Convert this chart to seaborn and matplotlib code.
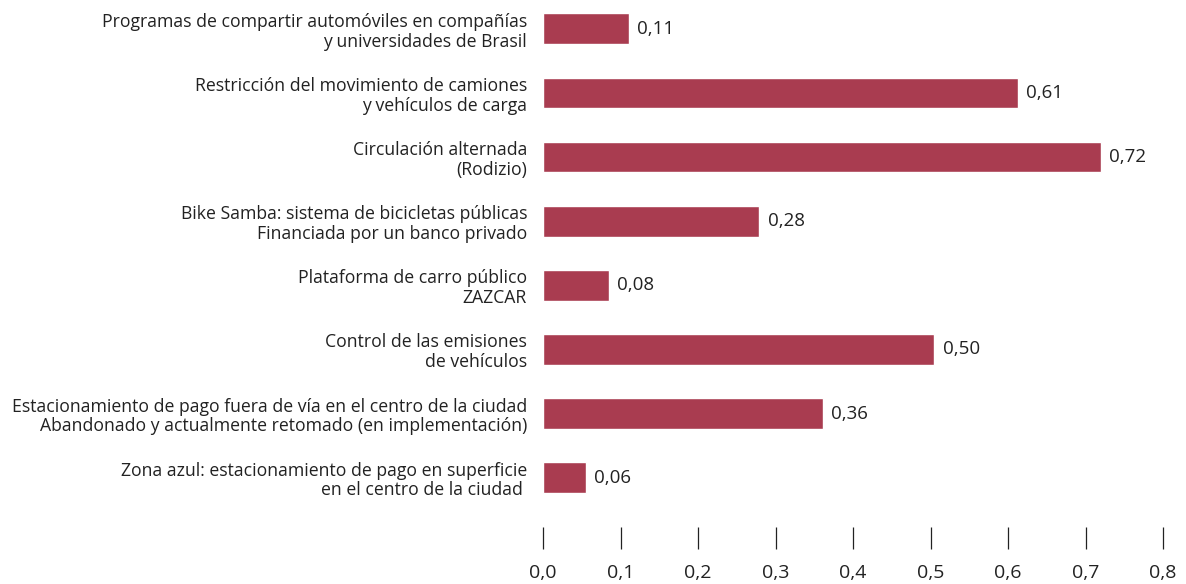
import matplotlib
matplotlib.use("Agg")
import matplotlib.pyplot as plt
import seaborn as sns
from matplotlib.ticker import FuncFormatter, MultipleLocator

categories = [
    "Programas de compartir automóviles en compañías\ny universidades de Brasil",
    "Restricción del movimiento de camiones\ny vehículos de carga",
    "Circulación alternada\n(Rodizio)",
    "Bike Samba: sistema de bicicletas públicas\nFinanciada por un banco privado",
    "Plataforma de carro público\nZAZCAR",
    "Control de las emisiones\nde vehículos",
    "Estacionamiento de pago fuera de vía en el centro de la ciudad\nAbandonado y actualmente retomado (en implementación)",
    "Zona azul: estacionamiento de pago en superficie\nen el centro de la ciudad ",
]
values = [0.111, 0.613, 0.72, 0.279, 0.085, 0.505, 0.361, 0.055]
value_labels = ["0,11", "0,61", "0,72", "0,28", "0,08", "0,50", "0,36", "0,06"]

sns.set_theme(style="white")
plt.rcParams["font.family"] = ["Open Sans", "DejaVu Sans"]

W, H = 1186, 584
fig = plt.figure(figsize=(W / 100, H / 100), dpi=100)
ax = fig.add_axes([543 / W, 1 - 527 / H, (1163 - 543) / W, 527 / H])

sns.barplot(x=values, y=categories, color="#A93C50", width=0.48, orient="h",
            saturation=1, ax=ax)

ax.set_xlim(0, 0.8)
ax.set_ylim(7.77, -0.45)
for s in ax.spines.values():
    s.set_visible(False)

ax.xaxis.set_major_locator(MultipleLocator(0.1))
ax.xaxis.set_major_formatter(FuncFormatter(lambda v, p: f"{v:.1f}".replace(".", ",")))
ax.tick_params(axis="x", bottom=True, length=16, width=0.9, color="#222222",
               pad=11, labelsize=14, labelcolor="#222222")
ax.tick_params(axis="y", left=False, length=0, pad=11.5, labelsize=12.7,
               labelcolor="#222222")
ax.set_xlabel("")
ax.set_ylabel("")
for t in ax.get_yticklabels():
    t.set_linespacing(1.13)

for i, (v, lab) in enumerate(zip(values, value_labels)):
    ax.annotate(lab, (v, i), xytext=(6, 0), textcoords="offset points",
                va="center", ha="left", fontsize=13.5, color="#222222")

fig.savefig("out.png", dpi=100)
